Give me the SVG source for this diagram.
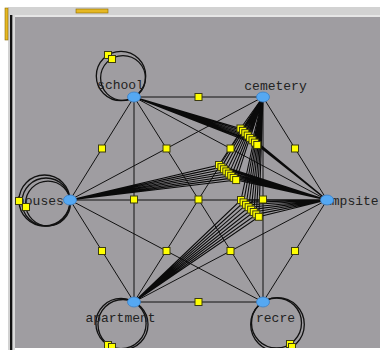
<svg xmlns="http://www.w3.org/2000/svg" width="380" height="350" viewBox="0 0 380 350">
<style>
.ln{fill:none;stroke:#111;stroke-width:1}
.fan{fill:none;stroke:#0a0a0a;stroke-width:1.1}
.loop{fill:none;stroke:#111;stroke-width:1.3}
.sq{fill:#ffff00;stroke:#3c3c10;stroke-width:1}
.nd{fill:#55a8f2;stroke:#3b7fc4;stroke-width:0.8}
.lb{font-family:"Liberation Mono","DejaVu Sans Mono",monospace;font-size:13px;fill:#222}
</style>
<defs>
<clipPath id="cv"><rect x="15" y="17" width="365" height="331"/></clipPath>
<rect id="q" class="sq" x="-3.5" y="-3.5" width="7" height="7"/>
</defs>
<rect width="380" height="350" fill="#ffffff"/>
<rect x="8" y="7" width="372" height="8" fill="#d2d2d2"/>
<rect x="8" y="15" width="372" height="2" fill="#e6e6e6"/>
<rect x="8" y="15" width="2" height="335" fill="#d2d2d2"/>
<rect x="10" y="15" width="2.6" height="335" fill="#111"/>
<rect x="12.6" y="15" width="2.4" height="335" fill="#dadada"/>
<rect x="15" y="17" width="365" height="331" fill="#9f9da1"/>
<rect x="76" y="9" width="32" height="4" fill="#e6b822" stroke="#8a6a00" stroke-width="0.6"/>
<rect x="5" y="8" width="3" height="32" fill="#e6b822" stroke="#8a6a00" stroke-width="0.6"/>
<g clip-path="url(#cv)">
<g id="connectors">
<path class="ln" d="M134 97L263 97M134 97L70 200M134 97L327 200M134 97L134 302M134 97L263 302M263 97L70 200M263 97L327 200M263 97L134 302M263 97L263 302M70 200L327 200M70 200L134 302M70 200L263 302M327 200L134 302M327 200L263 302M134 302L263 302"/>
<path class="fan" d="M134 97L240.5 128.5L263 97M240.5 128.5L327 200M134 97L242.9 130.85L263 97M242.9 130.85L327 200M134 97L245.3 133.2L263 97M245.3 133.2L327 200M134 97L247.7 135.55L263 97M247.7 135.55L327 200M134 97L250.1 137.9L263 97M250.1 137.9L327 200M134 97L252.5 140.25L263 97M252.5 140.25L327 200M134 97L254.9 142.6L263 97M254.9 142.6L327 200M134 97L257.3 144.95L263 97M257.3 144.95L327 200"/>
<path class="fan" d="M70 200L219 165L263 97M219 165L327 200M70 200L221.45 167.15L263 97M221.45 167.15L327 200M70 200L223.9 169.3L263 97M223.9 169.3L327 200M70 200L226.35 171.45L263 97M226.35 171.45L327 200M70 200L228.8 173.6L263 97M228.8 173.6L327 200M70 200L231.25 175.75L263 97M231.25 175.75L327 200M70 200L233.7 177.9L263 97M233.7 177.9L327 200M70 200L236.15 180.05L263 97M236.15 180.05L327 200"/>
<path class="fan" d="M134 302L241 200L263 97M241 200L327 200M134 302L243.55 202.4L263 97M243.55 202.4L327 200M134 302L246.1 204.8L263 97M246.1 204.8L327 200M134 302L248.65 207.2L263 97M248.65 207.2L327 200M134 302L251.2 209.6L263 97M251.2 209.6L327 200M134 302L253.75 212L263 97M253.75 212L327 200M134 302L256.3 214.4L263 97M256.3 214.4L327 200M134 302L258.85 216.8L263 97M258.85 216.8L327 200"/>
<circle class="loop" cx="121" cy="76" r="24.7"/>
<circle class="loop" cx="123" cy="78" r="22.4"/>
<circle class="loop" cx="44.5" cy="200.5" r="25.5"/>
<circle class="loop" cx="46" cy="202" r="24"/>
<circle class="loop" cx="48" cy="203.5" r="22.4"/>
<circle class="loop" cx="121" cy="323.5" r="25.1"/>
<circle class="loop" cx="123" cy="324.5" r="25"/>
<circle class="loop" cx="276.5" cy="323" r="25"/>
<circle class="loop" cx="277.5" cy="324.5" r="26.8"/>
</g>
<g id="school"><text class="lb" x="120.5" y="89" text-anchor="middle">school</text><ellipse class="nd" cx="134" cy="97" rx="6.5" ry="5"/></g>
<g id="cemetery"><text class="lb" x="275.5" y="90" text-anchor="middle">cemetery</text><ellipse class="nd" cx="263" cy="97" rx="6.5" ry="5"/></g>
<g id="houses"><text class="lb" x="17" y="205">houses</text><ellipse class="nd" cx="70" cy="200" rx="6.5" ry="5"/></g>
<g id="campsite"><text class="lb" x="324" y="205">ampsite</text><ellipse class="nd" cx="327" cy="200" rx="6.5" ry="5"/></g>
<g id="apartment"><text class="lb" x="120.5" y="322" text-anchor="middle">apartment</text><ellipse class="nd" cx="134" cy="302" rx="6.5" ry="5"/></g>
<g id="recre"><text class="lb" x="275.5" y="322" text-anchor="middle">recre</text><ellipse class="nd" cx="263" cy="302" rx="6.5" ry="5"/></g>
<g id="bends">
<use href="#q" x="198.5" y="97"/><use href="#q" x="102" y="148.5"/><use href="#q" x="230.5" y="148.5"/><use href="#q" x="166.5" y="148.5"/><use href="#q" x="295" y="148.5"/>
<use href="#q" x="134" y="199.5"/><use href="#q" x="198.5" y="199.5"/><use href="#q" x="263" y="199.5"/>
<use href="#q" x="102" y="251"/><use href="#q" x="166.5" y="251"/><use href="#q" x="230.5" y="251"/><use href="#q" x="295" y="251"/><use href="#q" x="198.5" y="302"/>
<use href="#q" x="240.5" y="128.5"/><use href="#q" x="242.9" y="130.85"/><use href="#q" x="245.3" y="133.2"/><use href="#q" x="247.7" y="135.55"/><use href="#q" x="250.1" y="137.9"/><use href="#q" x="252.5" y="140.25"/><use href="#q" x="254.9" y="142.6"/><use href="#q" x="257.3" y="144.95"/>
<use href="#q" x="219" y="165"/><use href="#q" x="221.45" y="167.15"/><use href="#q" x="223.9" y="169.3"/><use href="#q" x="226.35" y="171.45"/><use href="#q" x="228.8" y="173.6"/><use href="#q" x="231.25" y="175.75"/><use href="#q" x="233.7" y="177.9"/><use href="#q" x="236.15" y="180.05"/>
<use href="#q" x="241" y="200"/><use href="#q" x="243.55" y="202.4"/><use href="#q" x="246.1" y="204.8"/><use href="#q" x="248.65" y="207.2"/><use href="#q" x="251.2" y="209.6"/><use href="#q" x="253.75" y="212"/><use href="#q" x="256.3" y="214.4"/><use href="#q" x="258.85" y="216.8"/>
<use href="#q" x="108" y="55"/><use href="#q" x="112" y="59"/>
<use href="#q" x="19" y="201"/><use href="#q" x="26" y="207"/>
<use href="#q" x="108" y="345"/><use href="#q" x="112" y="347"/>
<use href="#q" x="290" y="344"/><use href="#q" x="292" y="347"/>
</g>
</g>
</svg>
